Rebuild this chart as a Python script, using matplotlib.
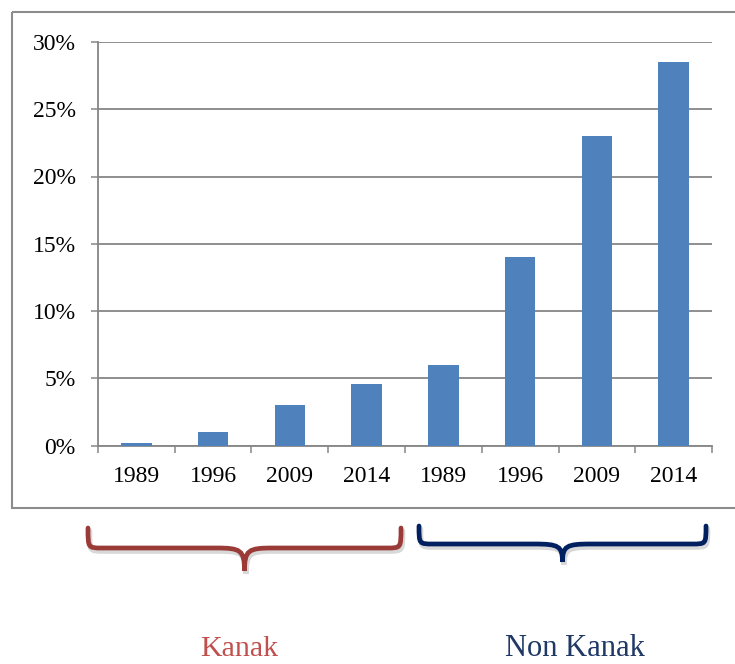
import matplotlib
matplotlib.use("Agg")
import matplotlib.pyplot as plt
from matplotlib.path import Path
from matplotlib.patches import PathPatch, Rectangle
import numpy as np

years = ["1989", "1996", "2009", "2014", "1989", "1996", "2009", "2014"]
values = [0.2, 1.0, 3.0, 4.6, 6.0, 14.0, 23.0, 28.5]
groups = ["Kanak", "Non Kanak"]
yticks = [0, 5, 10, 15, 20, 25, 30]

W, H = 735, 664
fig = plt.figure(figsize=(W / 100, H / 100), dpi=100)
plt.rcParams['font.family'] = ['Liberation Serif', 'DejaVu Serif']

grey = "#868686"

# background overlay axes in pixel coordinates
bg = fig.add_axes([0, 0, 1, 1], zorder=0)
bg.set_xlim(0, W)
bg.set_ylim(H, 0)
bg.axis("off")
bg.add_patch(Rectangle((12, 12), 740, 496, fill=False, edgecolor="#8c8c8c", lw=1.5))

ax = fig.add_axes([98 / W, 1 - 445.5 / H, (712 - 98) / W, (445.5 - 42) / H], zorder=1)
ax.patch.set_alpha(0)
x = np.arange(len(values))
ax.bar(x, values, width=0.4, color="#4F81BD", zorder=3)
ax.set_xlim(-0.5, len(values) - 0.5)
ax.set_ylim(0, 30)
ax.set_yticks(yticks)
ax.set_yticklabels([f"{v}%" for v in yticks])
ax.set_xticks(x)
ax.set_xticklabels(years)
ax.set_xticks(np.arange(-0.5, len(values), 1.0), minor=True)
ax.tick_params(axis="x", which="major", length=0, pad=15, labelsize=17)
ax.tick_params(axis="x", which="minor", length=5, width=1.1, color=grey, direction="out")
ax.tick_params(axis="y", length=5, width=1.1, color=grey, pad=11, labelsize=17)
for s in ["top", "right"]:
    ax.spines[s].set_visible(False)
for s in ["left", "bottom"]:
    ax.spines[s].set_color(grey)
    ax.spines[s].set_linewidth(1.3)
ax.yaxis.grid(True, color=grey, lw=1.3, zorder=0)
ax.set_axisbelow(True)


def brace(x0, x1, top, hy, tip, color):
    xm = (x0 + x1) / 2
    r = 14
    verts = [
        (x0, top), (x0, hy), (x0, hy), (x0 + r, hy),
        (xm - 2 * r, hy),
        (xm - 4, hy), (xm, hy + 2), (xm, tip),
        (xm, hy + 2), (xm + 4, hy), (xm + 2 * r, hy),
        (x1 - r, hy),
        (x1, hy), (x1, hy), (x1, top),
    ]
    codes = [Path.MOVETO, Path.CURVE4, Path.CURVE4, Path.CURVE4,
             Path.LINETO,
             Path.CURVE4, Path.CURVE4, Path.CURVE4,
             Path.CURVE4, Path.CURVE4, Path.CURVE4,
             Path.LINETO,
             Path.CURVE4, Path.CURVE4, Path.CURVE4]
    p = Path(verts, codes)
    sh = Path([(vx + 1.5, vy + 3) for vx, vy in verts], codes)
    bg.add_patch(PathPatch(sh, fill=False, edgecolor="#d8d8d8", lw=4, capstyle="round"))
    bg.add_patch(PathPatch(p, fill=False, edgecolor=color, lw=3.4, capstyle="round"))


brace(88, 401, 528, 548, 571, "#9B3B38")
brace(419, 706, 526, 544, 562, "#002060")

bg.text(239, 656, groups[0], color="#C0504D", fontsize=21.5, ha="center", va="baseline")
bg.text(575, 656, groups[1], color="#1F3864", fontsize=22, ha="center", va="baseline")

fig.savefig("out.png", dpi=100)
